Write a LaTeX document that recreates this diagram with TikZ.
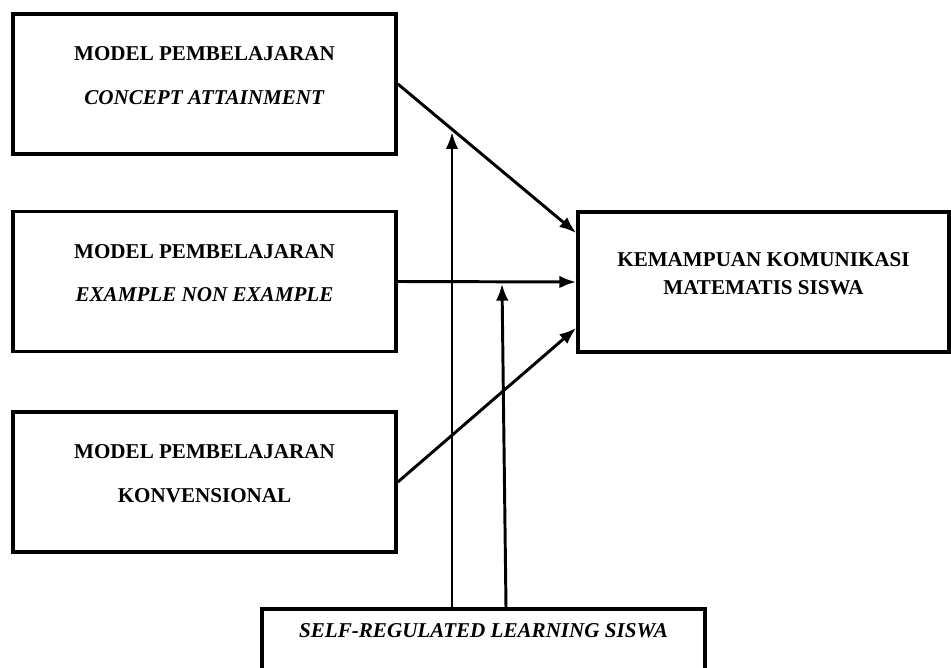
\documentclass[tikz,border=0pt]{standalone}
\usepackage{fontspec}
\setmainfont{Liberation Serif}
\usetikzlibrary{arrows.meta,positioning,calc}
\tikzstyle{every node}=[font=\fontsize{15}{31}\selectfont\bfseries]
\tikzstyle{every path}=[line width=2.1pt,line join=miter]
\tikzstyle{modelbox}=[draw,line width=2.6pt,minimum width=9.575cm,minimum height=3.5cm,
  align=center,text depth=0.42cm]
\tikzstyle{hasilbox}=[draw,line width=2.6pt,minimum width=9.275cm,minimum height=3.5cm,
  align=center,font=\fontsize{15}{20}\selectfont\bfseries,text depth=0.42cm]
\tikzstyle{panah}=[-{Latex[length=12pt,width=9pt]}]

\begin{document}
\begin{tikzpicture}
  \useasboundingbox (0,0) rectangle (23.775,16.675);
  \node[modelbox] (cat) at (5.1125,14.575)
    {MODEL PEMBELAJARAN\\\textit{CONCEPT ATTAINMENT}};
  \node[modelbox] (ene) at (5.1125,9.6375)
    {MODEL PEMBELAJARAN\\\textit{EXAMPLE NON EXAMPLE}};
  \node[modelbox] (kon) at (5.1125,4.625)
    {MODEL PEMBELAJARAN\\KONVENSIONAL};
  \node[hasilbox] (kom) at (19.0875,9.625)
    {KEMAMPUAN KOMUNIKASI\\MATEMATIS SISWA};
  \node[draw,line width=2.6pt,anchor=north,minimum width=11.075cm,inner ysep=0.36cm,
    text depth=1.2cm] (srl) at (12.0875,1.5) {\textit{SELF-REGULATED LEARNING SISWA}};
  \coordinate (mod1) at (11.3,13.375);
  \coordinate (mod2) at (12.55,9.58);
  \draw[panah] (cat.east) -- ([yshift=1.225cm]kom.west);
  \draw[panah] (ene.east) -- (kom.west);
  \draw[panah] (kon.east) -- ([yshift=-1.15cm]kom.west);
  \draw[panah] (srl.north -| mod1) -- (mod1);
  \draw[panah] ([xshift=0.5625cm]srl.north) -- (mod2);
\end{tikzpicture}
\end{document}
